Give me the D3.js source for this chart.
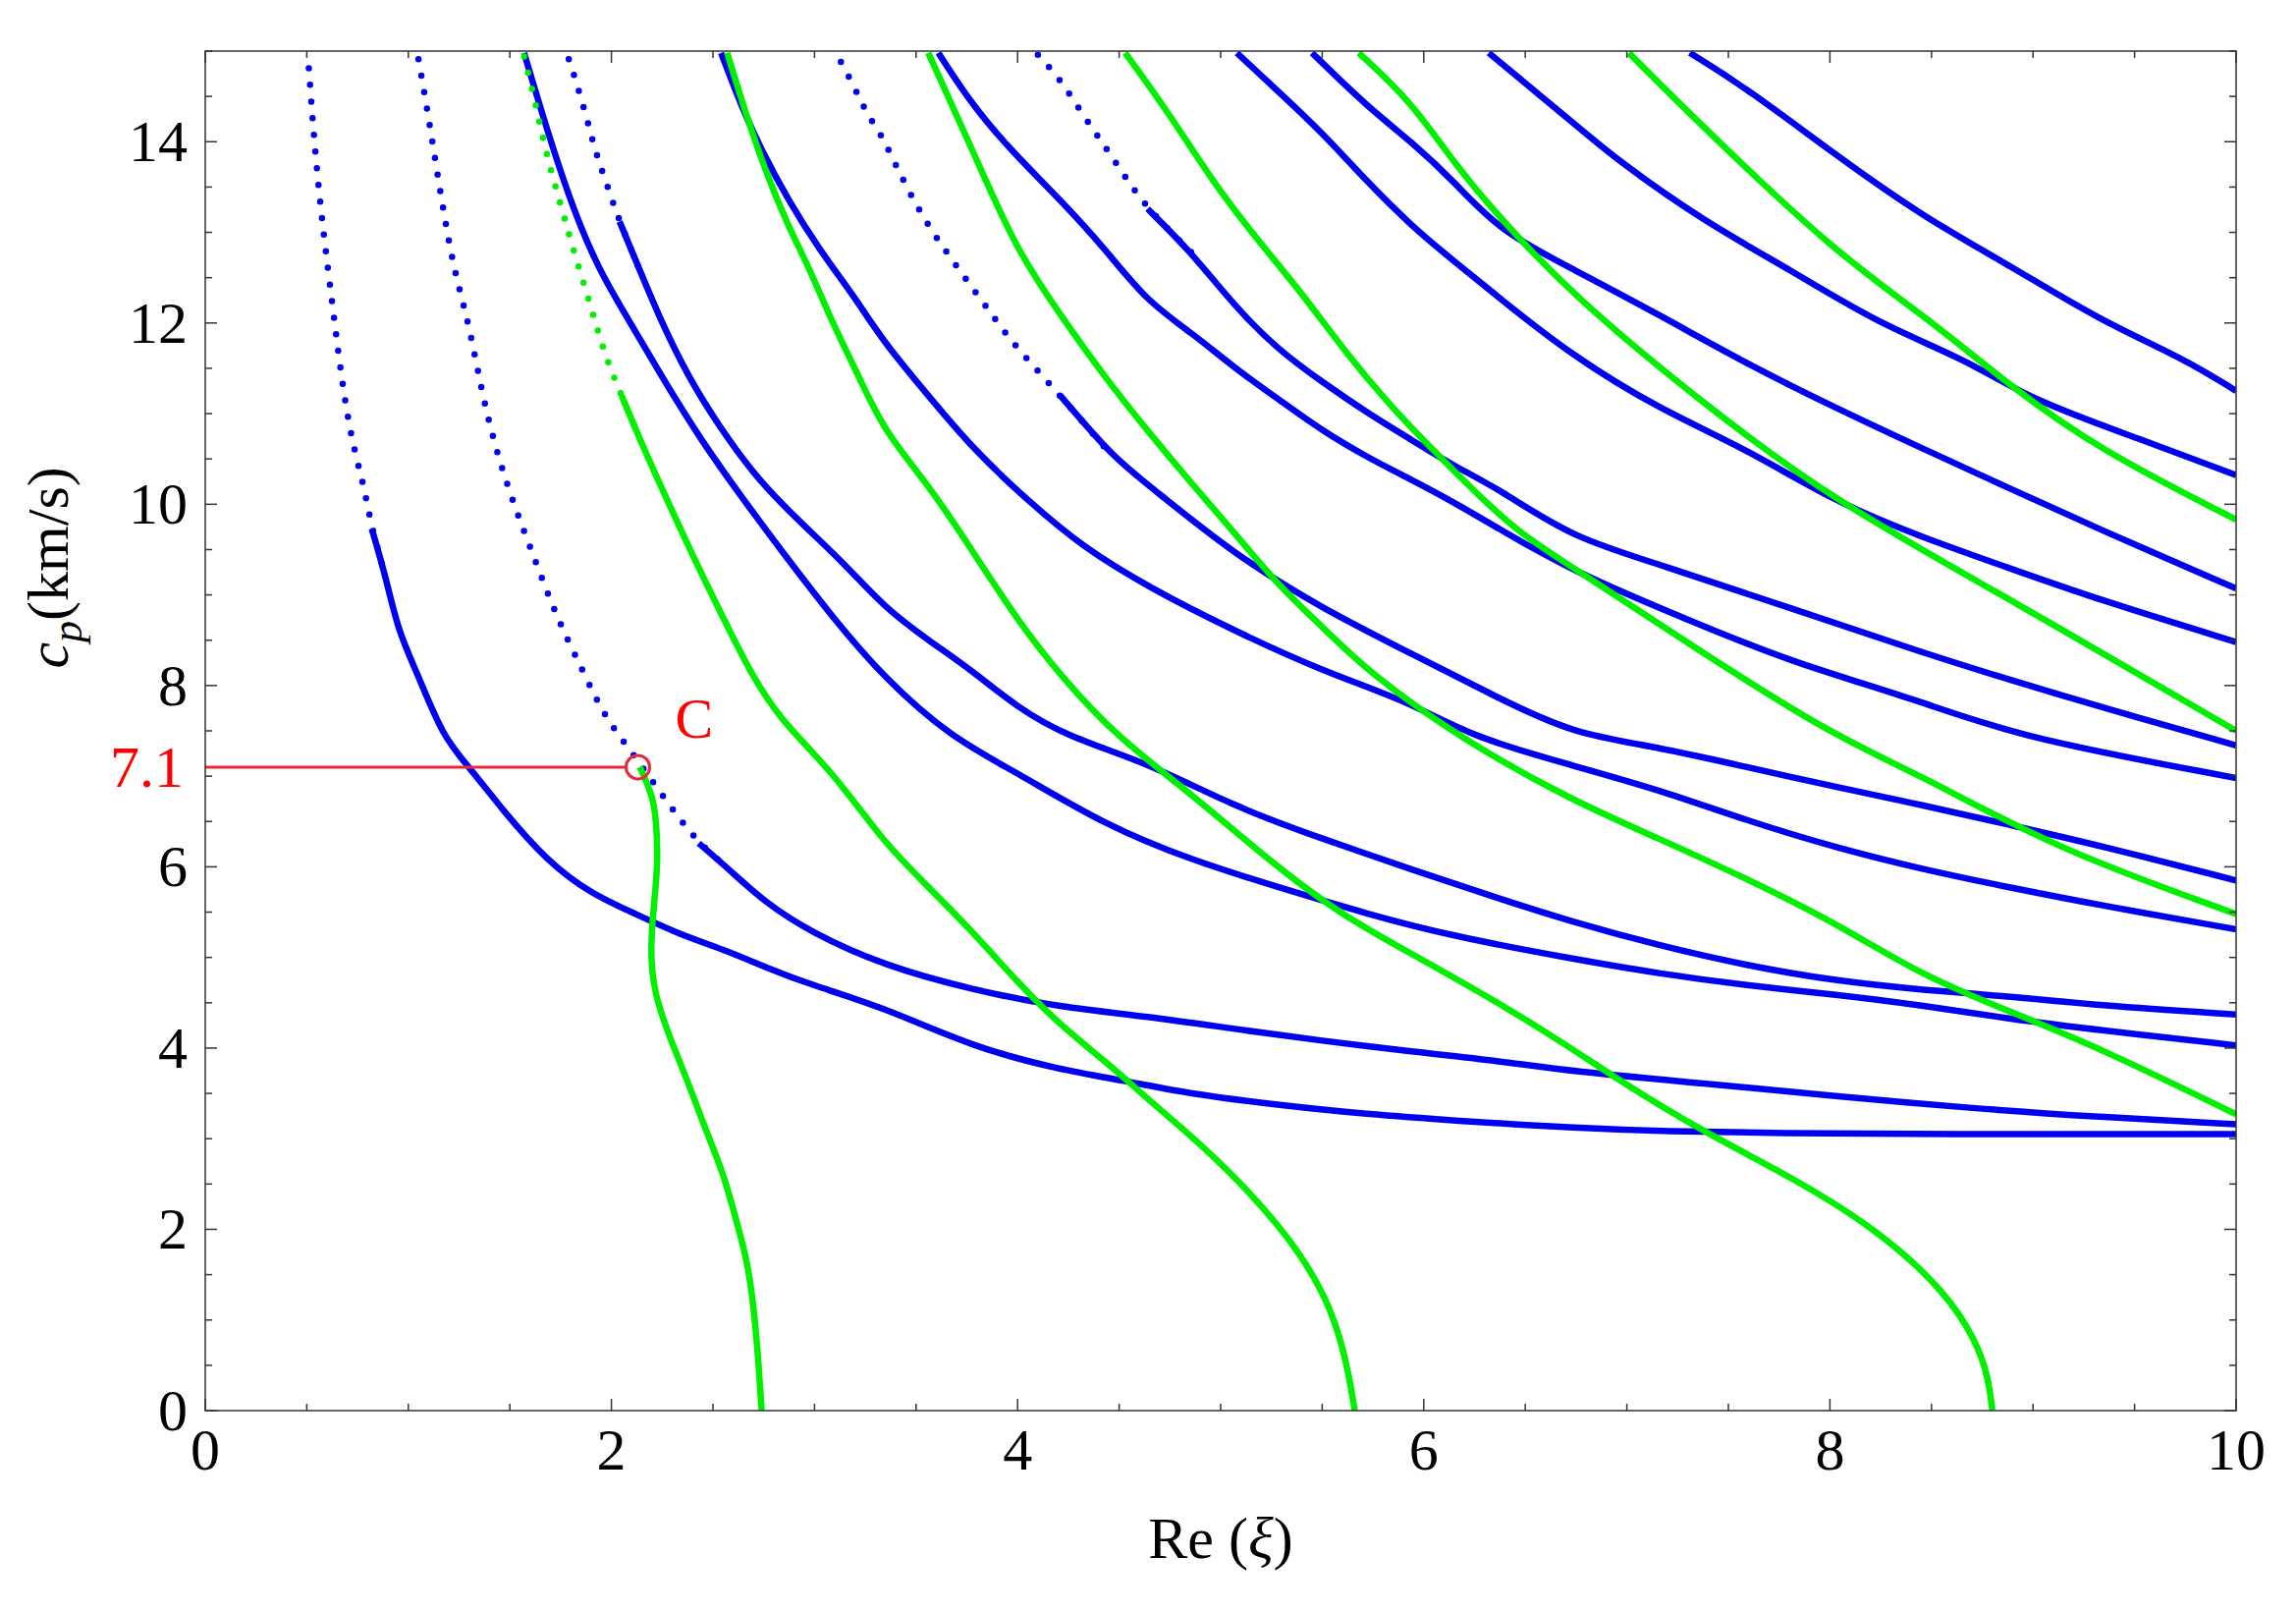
<!DOCTYPE html>
<html lang="en">
<head>
<meta charset="UTF-8">
<title>Dispersion curves c_p vs Re(xi)</title>
<script src="https://d3js.org/d3.v7.min.js"></script>
<style>
  body { margin: 0; background: #fff; }
  svg { font-family: "Liberation Serif", "Times New Roman", serif; }
</style>
</head>
<body>
<svg id="chart"></svg>
<script>
// curves: [Re(xi), c_p]; dotAbove = part above that c_p is drawn sparse/dotted
const blue1 = [[0.51,14.81],[0.54,13.9],[0.58,13.02],[0.63,12.14],[0.67,11.4],[0.72,10.71],[0.78,10.22],[0.82,9.73],[0.89,9.19],[0.95,8.6],[1.04,8.16],[1.17,7.43],[1.3,7.1],[1.47,6.61],[1.68,6.07],[1.9,5.7],[2.12,5.48],[2.33,5.26],[2.55,5.09],[2.76,4.89],[2.98,4.7],[3.34,4.45],[3.78,4.01],[4.21,3.76],[4.53,3.64],[4.86,3.49],[5.29,3.37],[5.72,3.27],[6.15,3.2],[6.73,3.12],[7.2,3.08],[7.75,3.06],[8.5,3.05],[10,3.05]];
const blue2 = [[1.05,14.91],[1.1,14.27],[1.17,13.26],[1.23,12.53],[1.3,11.99],[1.38,11.01],[1.49,10.17],[1.6,9.53],[1.73,8.75],[1.86,8.16],[1.97,7.64],[2.1,7.27],[2.3,6.63],[2.43,6.26],[2.58,5.97],[2.76,5.6],[2.98,5.28],[3.34,4.91],[3.78,4.64],[4.21,4.45],[4.64,4.35],[5.07,4.21],[5.5,4.08],[5.94,3.96],[6.37,3.86],[6.73,3.74],[7.38,3.61],[8.03,3.47],[8.67,3.34],[9.32,3.24],[10,3.16]];
const blue3 = [[1.57,14.98],[1.68,14.15],[1.81,13.26],[1.94,12.58],[2.07,12.09],[2.25,11.4],[2.44,10.71],[2.66,10.02],[2.87,9.39],[3.09,8.75],[3.34,8.09],[3.67,7.43],[3.99,7.05],[4.43,6.46],[4.86,6.07],[5.29,5.77],[5.72,5.48],[6.15,5.23],[6.72,4.99],[7.16,4.82],[7.59,4.69],[8.03,4.59],[8.46,4.47],[8.89,4.32],[9.32,4.2],[10,4.03]];
const blue4 = [[1.79,14.91],[1.83,14.64],[1.88,14.25],[1.92,13.9],[1.98,13.51],[2.04,13.12],[2.14,12.58],[2.25,11.99],[2.38,11.4],[2.53,10.86],[2.72,10.27],[2.94,9.78],[3.15,9.34],[3.34,8.87],[3.56,8.5],[3.78,8.16],[3.99,7.77],[4.25,7.43],[4.64,7.15],[5.07,6.66],[5.5,6.31],[5.94,5.97],[6.37,5.65],[6.72,5.4],[7.16,5.13],[7.59,4.91],[8.03,4.74],[8.46,4.64],[8.89,4.57],[9.32,4.47],[10,4.37]];
const blue5 = [[2.54,14.98],[2.64,14.39],[2.74,13.9],[2.87,13.36],[3.02,12.82],[3.2,12.28],[3.34,11.79],[3.56,11.2],[3.78,10.61],[4.06,10.02],[4.32,9.53],[4.64,9.09],[5.07,8.6],[5.5,8.16],[5.94,7.81],[6.24,7.43],[6.73,7.12],[7.16,6.85],[7.59,6.51],[8.03,6.21],[8.46,5.97],[8.89,5.77],[9.32,5.58],[10,5.31]];
const blue6 = [[3.13,14.88],[3.2,14.59],[3.25,14.34],[3.32,14.1],[3.35,13.98],[3.45,13.51],[3.56,13.07],[3.67,12.72],[3.78,12.38],[3.89,12.04],[3.99,11.74],[4.21,11.2],[4.47,10.52],[4.64,10.22],[5.07,9.44],[5.5,8.85],[5.94,8.35],[6.37,7.86],[6.73,7.47],[7.16,7.32],[7.59,7.1],[8.03,6.88],[8.46,6.68],[8.89,6.46],[9.32,6.24],[10,5.85]];
const blue7 = [[3.61,14.98],[3.78,14.39],[3.99,13.85],[4.21,13.36],[4.43,12.82],[4.64,12.23],[4.86,11.89],[5.07,11.5],[5.29,11.15],[5.5,10.81],[5.72,10.52],[5.94,10.27],[6.15,10.02],[6.37,9.73],[6.73,9.26],[7.38,8.65],[7.81,8.26],[8.46,7.82],[8.93,7.43],[10,6.98]];
const blue8 = [[4.1,14.96],[4.21,14.69],[4.32,14.3],[4.43,13.95],[4.53,13.61],[4.64,13.26],[4.86,12.77],[5.07,12.18],[5.29,11.69],[5.5,11.35],[5.72,11.01],[5.94,10.71],[6.15,10.42],[6.37,10.17],[6.73,9.63],[7.16,9.34],[7.81,8.85],[8.46,8.36],[8.89,8.06],[9.32,7.77],[10,7.34]];
const blue9 = [[5.08,14.98],[5.29,14.54],[5.5,14.1],[5.72,13.56],[5.94,13.07],[6.15,12.68],[6.37,12.28],[6.73,11.64],[7.16,11.05],[7.59,10.61],[8.03,10.02],[8.46,9.63],[8.89,9.29],[9.32,8.95],[10,8.48]];
const blue10 = [[5.45,14.98],[5.72,14.39],[5.94,14.0],[6.15,13.56],[6.37,13.02],[6.73,12.6],[7.16,12.09],[7.59,11.55],[8.03,11.06],[8.46,10.61],[8.89,10.17],[9.32,9.73],[10,9.07]];
const blue11 = [[6.32,14.98],[6.73,14.22],[6.95,13.8],[7.38,13.12],[7.81,12.58],[8.24,11.99],[8.67,11.6],[8.99,11.15],[9.54,10.71],[10,10.32]];
const blue12 = [[7.31,14.98],[7.59,14.59],[8.03,13.85],[8.46,13.17],[8.89,12.63],[9.32,12.04],[9.75,11.6],[10,11.25]];

const green1 = [[2.14,7.1],[2.2,6.8],[2.22,6.55],[2.23,6.05],[2.21,5.6],[2.19,5.08],[2.21,4.6],[2.29,4.1],[2.38,3.61],[2.46,3.12],[2.55,2.63],[2.61,2.14],[2.67,1.65],[2.7,1.15],[2.72,0.67],[2.74,0]];
const green2 = [[1.57,14.94],[1.63,14.39],[1.68,13.85],[1.75,13.31],[1.81,12.82],[1.9,12.18],[1.96,11.69],[2.05,11.2],[2.16,10.61],[2.29,9.97],[2.42,9.34],[2.55,8.75],[2.68,8.16],[2.83,7.62],[3.09,7.05],[3.34,6.27],[3.56,5.78],[3.78,5.28],[3.99,4.75],[4.21,4.25],[4.43,3.86],[4.64,3.44],[4.86,3.02],[5.07,2.58],[5.29,2.04],[5.46,1.5],[5.57,0.97],[5.63,0.42],[5.66,0]];
const green3 = [[2.57,14.98],[2.65,14.39],[2.76,13.66],[2.87,13.07],[2.98,12.58],[3.09,11.99],[3.2,11.5],[3.34,10.81],[3.56,10.22],[3.78,9.48],[3.99,8.75],[4.21,8.11],[4.49,7.43],[4.86,6.8],[5.29,5.97],[5.61,5.45],[5.94,5.04],[6.37,4.5],[6.72,4.01],[6.95,3.66],[7.38,3.07],[7.81,2.58],[8.24,1.99],[8.57,1.31],[8.72,0.77],[8.78,0.37],[8.8,0]];
const green4 = [[3.56,14.98],[3.78,13.9],[3.99,12.82],[4.21,12.09],[4.43,11.4],[4.64,10.81],[4.86,10.22],[5.07,9.68],[5.29,9.09],[5.5,8.65],[5.72,8.16],[6.17,7.43],[6.73,6.73],[7.16,6.31],[7.59,5.87],[8.03,5.38],[8.46,4.79],[8.89,4.4],[9.32,4.01],[10,3.27]];
const green5 = [[4.53,14.98],[4.75,14.3],[4.96,13.56],[5.18,12.92],[5.4,12.33],[5.61,11.69],[5.83,11.1],[6.04,10.61],[6.26,10.12],[6.47,9.68],[6.73,9.31],[7.38,8.35],[8.03,7.43],[8.46,7.0],[9.1,6.21],[10,5.48]];
const green6 = [[5.68,14.98],[5.94,14.44],[6.15,13.76],[6.37,13.17],[6.73,12.31],[7.38,11.1],[8.03,10.02],[8.89,8.95],[10,7.5]];
const green7 = [[7.01,14.98],[7.38,14.15],[8.03,12.77],[8.46,12.09],[8.89,11.3],[9.32,10.61],[10,9.83]];

const series = [
  {pts: blue1, color: "blue", dotAbove: 9.6},
  {pts: blue2, color: "blue", dotAbove: 6.0},
  {pts: blue3, color: "blue", dotAbove: 99},
  {pts: blue4, color: "blue", dotAbove: 13.0},
  {pts: blue5, color: "blue", dotAbove: 99},
  {pts: blue6, color: "blue", dotAbove: 10.6},
  {pts: blue7, color: "blue", dotAbove: 99},
  {pts: blue8, color: "blue", dotAbove: 13.0},
  {pts: blue9, color: "blue", dotAbove: 99},
  {pts: blue10, color: "blue", dotAbove: 99},
  {pts: blue11, color: "blue", dotAbove: 99},
  {pts: blue12, color: "blue", dotAbove: 99},
  {pts: green1, color: "green", dotAbove: 99},
  {pts: green2, color: "green", dotAbove: 11.0},
  {pts: green3, color: "green", dotAbove: 99},
  {pts: green4, color: "green", dotAbove: 99},
  {pts: green5, color: "green", dotAbove: 99},
  {pts: green6, color: "green", dotAbove: 99},
  {pts: green7, color: "green", dotAbove: 99}
];

const xTicks = [0, 2, 4, 6, 8, 10];
const yTicks = [0, 2, 4, 6, 8, 10, 12, 14];
const markC = {x: 2.13, y: 7.1, label: "C", yLabel: "7.1"};

const colors = {blue: "#0000f0", green: "#00f000"};
const W = 2338, H = 1641;
const margin = {top: 52, right: 61, bottom: 205, left: 209};
const width = W - margin.left - margin.right;
const height = H - margin.top - margin.bottom;

const svg = d3.select("#chart").attr("width", W).attr("height", H);
const g = svg.append("g").attr("transform", "translate(" + margin.left + "," + margin.top + ")");

const x = d3.scaleLinear().domain([0, 10]).range([0, width]);
const y = d3.scaleLinear().domain([0, 15]).range([height, 0]);

g.append("clipPath").attr("id", "clip").append("rect").attr("width", width).attr("height", height);
const plot = g.append("g").attr("clip-path", "url(#clip)");

const line = d3.line().x(d => x(d[0])).y(d => y(d[1])).curve(d3.curveBasis);

series.forEach(s => {
  const dotted = s.pts.filter(d => d[1] >= s.dotAbove);
  const solid = s.pts.filter(d => d[1] <= s.dotAbove);
  if (dotted.length && solid.length) { dotted.push(solid[0]); }
  if (dotted.length > 1) {
    plot.append("path").attr("d", line(dotted))
      .attr("fill", "none").attr("stroke", colors[s.color])
      .attr("stroke-width", 6.5).attr("stroke-linecap", "round")
      .attr("stroke-dasharray", "0 17");
  }
  if (solid.length > 1) {
    // start the solid part one point earlier so there is no gap
    const idx = s.pts.indexOf(solid[0]);
    const seg = idx > 0 ? [s.pts[idx - 1]].concat(solid) : solid;
    plot.append("path").attr("d", line(seg))
      .attr("fill", "none").attr("stroke", colors[s.color])
      .attr("stroke-width", 6.5);
  }
});

// marker C
plot.append("line")
  .attr("x1", x(0)).attr("x2", x(markC.x) - 13)
  .attr("y1", y(markC.y)).attr("y2", y(markC.y))
  .attr("stroke", "#e8283c").attr("stroke-width", 3);
plot.append("circle")
  .attr("cx", x(markC.x)).attr("cy", y(markC.y)).attr("r", 12)
  .attr("fill", "none").attr("stroke", "#e8283c").attr("stroke-width", 3);
g.append("text").attr("x", x(markC.x) + 38).attr("y", y(markC.y) - 30)
  .attr("fill", "#ff0000").style("font-size", "58px").text(markC.label);
g.append("text").attr("x", -22).attr("y", y(markC.y) + 20)
  .attr("text-anchor", "end").attr("fill", "#ff0000").style("font-size", "60px").text(markC.yLabel);

// frame and ticks on all sides
g.append("rect").attr("width", width).attr("height", height)
  .attr("fill", "none").attr("stroke", "#333").attr("stroke-width", 1.5);

const xMinor = d3.range(0, 10.01, 0.5);
const yMinor = d3.range(0, 15.01, 0.5);
const tk = g.append("g").attr("stroke", "#333").attr("stroke-width", 1.5);
xMinor.forEach(v => {
  const len = xTicks.includes(v) ? 12 : 7;
  tk.append("line").attr("x1", x(v)).attr("x2", x(v)).attr("y1", height).attr("y2", height - len);
  tk.append("line").attr("x1", x(v)).attr("x2", x(v)).attr("y1", 0).attr("y2", len);
});
yMinor.forEach(v => {
  const len = yTicks.includes(v) ? 12 : 7;
  tk.append("line").attr("x1", 0).attr("x2", len).attr("y1", y(v)).attr("y2", y(v));
  tk.append("line").attr("x1", width).attr("x2", width - len).attr("y1", y(v)).attr("y2", y(v));
});

g.selectAll(".xl").data(xTicks).enter().append("text")
  .attr("x", d => x(d)).attr("y", height + 60)
  .attr("text-anchor", "middle").style("font-size", "60px").text(d => d);
g.selectAll(".yl").data(yTicks).enter().append("text")
  .attr("x", -18).attr("y", d => y(d) + 20)
  .attr("text-anchor", "end").style("font-size", "60px").text(d => d);

// axis titles
g.append("text").attr("x", width / 2).attr("y", height + 150)
  .attr("text-anchor", "middle").style("font-size", "60px")
  .html('Re (<tspan font-style="italic">ξ</tspan>)');
g.append("text").attr("transform", "translate(" + (-140) + "," + (y(9.3)) + ") rotate(-90)")
  .attr("text-anchor", "middle").style("font-size", "60px")
  .html('<tspan font-style="italic">c</tspan><tspan font-style="italic" dy="14" font-size="44px">p</tspan><tspan dy="-14">(km/s)</tspan>');
</script>
</body>
</html>
